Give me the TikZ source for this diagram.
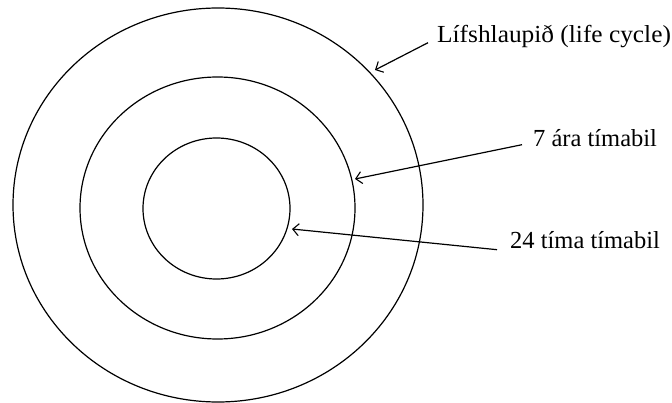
\documentclass[tikz,border=0pt]{standalone}
\usepackage{fontspec}
\setmainfont[Ligatures=NoCommon]{Liberation Serif}
\usetikzlibrary{arrows.meta}
\begin{document}
\begin{tikzpicture}[x=1pt,y=-1pt,
  ring/.style={draw=black,line width=1.2pt},
  lbl/.style={anchor=base west,inner xsep=10pt,inner ysep=0pt,
    font=\fontsize{24.5}{28}\selectfont,text height=0.68em,text depth=0.22em},
  arr/.style={draw=black,line width=1.2pt,-{Straight Barb[length=6pt,width=12pt,line width=1.1pt]}}]
\useasboundingbox[fill=white] (0,0) rectangle (672,403);
% rings
\draw[ring] (218,205) ellipse [x radius=205pt,y radius=197pt];
\draw[ring] (217.5,208) ellipse [x radius=137.5pt,y radius=131pt];
\draw[ring] (216.5,208.5) ellipse [x radius=73.5pt,y radius=70.5pt];
% labels
\node[lbl,inner xsep=9pt] (lif) at (428,43) {\scalebox{1.035}[1]{Lífshlaupið (life cycle)}};
\node[lbl,inner xsep=11pt] (sjo) at (522,147) {7 ára tímabil};
\node[lbl,inner xsep=13pt] (tfj) at (497,249) {24 tíma tímabil};
% arrow tips
\coordinate (t1) at (375,70);
\coordinate (t7) at (355,179);
\coordinate (t24) at (292,229);
\draw[arr] ([yshift=-2pt]lif.west) -- (t1);
\draw[arr] (sjo.west) -- (t7);
\draw[arr] ([yshift=-3pt]tfj.west) -- (t24);
\end{tikzpicture}
\end{document}
